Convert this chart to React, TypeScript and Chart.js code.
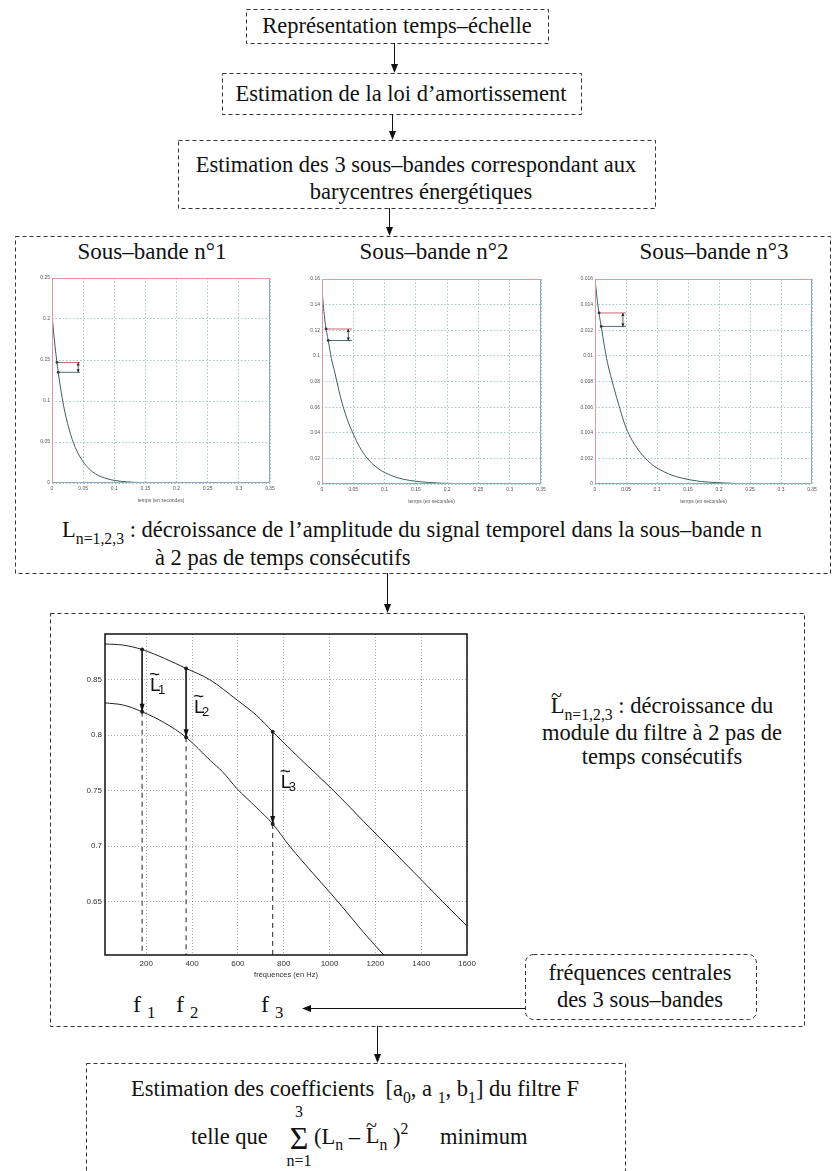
import React, { useEffect, useRef } from "react";
import { Chart, registerables } from "chart.js";
Chart.register(...registerables);

// ---------------- data : sub-band decay curves ----------------
const TIME_TICKS = [0, 0.05, 0.1, 0.15, 0.2, 0.25, 0.3, 0.35];

const SB1_TIME = [0, 0.005, 0.01, 0.015, 0.02, 0.03, 0.04, 0.05, 0.06, 0.07, 0.08, 0.09, 0.1, 0.12, 0.14, 0.17, 0.2];
const SB1_AMP = [0.205, 0.166, 0.135, 0.11, 0.089, 0.059, 0.039, 0.026, 0.017, 0.011, 0.0074, 0.0048, 0.0032, 0.0014, 0.0006, 0.0002, 0];
const SB1_MARK_TIME = [0.008, 0.01];
const SB1_MARK_AMP = [0.147, 0.135];
const SB1_LINE_END = 0.045;
const SB1_ARROW_TIME = 0.042;
const SB1_Y_TICKS = [0, 0.05, 0.1, 0.15, 0.2, 0.25];

const SB2_TIME = [0, 0.005, 0.01, 0.015, 0.02, 0.03, 0.04, 0.05, 0.06, 0.07, 0.08, 0.09, 0.1, 0.12, 0.14, 0.17, 0.2, 0.25];
const SB2_AMP = [0.151, 0.126, 0.112, 0.098, 0.088, 0.067, 0.051, 0.039, 0.029, 0.0215, 0.016, 0.012, 0.009, 0.005, 0.0028, 0.0012, 0.0005, 0.0001];
const SB2_MARK_TIME = [0.0065, 0.01];
const SB2_MARK_AMP = [0.121, 0.112];
const SB2_LINE_END = 0.048;
const SB2_ARROW_TIME = 0.042;
const SB2_Y_TICKS = [0, 0.02, 0.04, 0.06, 0.08, 0.1, 0.12, 0.14, 0.16];

const SB3_TIME = [0, 0.005, 0.01, 0.015, 0.02, 0.03, 0.04, 0.05, 0.06, 0.07, 0.08, 0.09, 0.1, 0.12, 0.14, 0.17, 0.2, 0.25];
const SB3_AMP = [0.016, 0.0138, 0.0123, 0.0108, 0.0095, 0.0076, 0.0059, 0.0044, 0.0034, 0.00265, 0.00207, 0.0016, 0.00125, 0.00076, 0.00046, 0.0002, 0.0001, 0];
const SB3_MARK_TIME = [0.0065, 0.01];
const SB3_MARK_AMP = [0.01335, 0.0123];
const SB3_LINE_END = 0.05;
const SB3_ARROW_TIME = 0.045;
const SB3_Y_TICKS = [0, 0.002, 0.004, 0.006, 0.008, 0.01, 0.012, 0.014, 0.016];

// ---------------- data : filter modulus ----------------
const FREQ_TICKS = [200, 400, 600, 800, 1000, 1200, 1400, 1600];
const MOD_TICKS = [0.65, 0.7, 0.75, 0.8, 0.85];
const FREQ_HI = [20, 100, 182, 280, 374, 476, 600, 680, 752, 880, 1018, 1150, 1256, 1380, 1494, 1600];
const MOD_HI = [0.882, 0.881, 0.877, 0.869, 0.86, 0.85, 0.831, 0.818, 0.803, 0.777, 0.75, 0.722, 0.7, 0.674, 0.65, 0.628];
const FREQ_LO = [20, 100, 182, 280, 374, 480, 533, 595, 680, 752, 826, 930, 1045, 1150, 1245];
const MOD_LO = [0.829, 0.827, 0.821, 0.811, 0.798, 0.777, 0.767, 0.752, 0.735, 0.72, 0.7, 0.675, 0.648, 0.622, 0.6];
const F_CENTRAL = [182, 374, 752];
const MOD_HI_AT_F = [0.877, 0.86, 0.803];
const MOD_LO_AT_F = [0.821, 0.798, 0.72];

// ---------------- layout / style ----------------
const SERIF = '"Liberation Serif", "Times New Roman", Times, serif';
const SANS = '"Liberation Sans", Arial, Helvetica, sans-serif';
const FS = 22.5;

function geom(l: number, t: number, r: number, b: number, yw: number, pt: number, pr: number, xh: number) {
  return { left: l - yw, top: t - pt, width: r - l + yw + pr, height: b - t + pt + xh, yw, pt, pr, xh };
}
const G1 = geom(52, 278, 270, 483, 30, 6, 10, 22);
const G2 = geom(322, 279, 541, 484, 30, 6, 10, 22);
const G3 = geom(595, 279, 812, 484, 30, 6, 10, 22);
const G4 = geom(105, 634, 467, 955, 40, 8, 14, 26);

const pts = (xs: number[], ys: number[]) => xs.map((x, i) => ({ x, y: ys[i] }));

function makeSubband(canvas: HTMLCanvasElement, g: any, time: number[], amp: number[], markT: number[], markA: number[], lineEnd: number, arrowT: number, yTicks: number[]) {
  const gridColor = "#8dbaba";
  const arrowPlugin = {
    id: "gapArrow",
    afterDatasetsDraw(chart: any) {
      const { ctx, scales } = chart;
      const x = scales.x.getPixelForValue(arrowT);
      const y1 = scales.y.getPixelForValue(markA[0]);
      const y2 = scales.y.getPixelForValue(markA[1]);
      ctx.save();
      ctx.strokeStyle = "#333";
      ctx.fillStyle = "#222";
      ctx.lineWidth = 0.8;
      ctx.beginPath();
      ctx.moveTo(x, y1);
      ctx.lineTo(x, y2);
      ctx.stroke();
      ctx.beginPath();
      ctx.moveTo(x, y1); ctx.lineTo(x - 1.6, y1 + 3); ctx.lineTo(x + 1.6, y1 + 3); ctx.closePath(); ctx.fill();
      ctx.beginPath();
      ctx.moveTo(x, y2); ctx.lineTo(x - 1.6, y2 - 3); ctx.lineTo(x + 1.6, y2 - 3); ctx.closePath(); ctx.fill();
      ctx.restore();
    },
    afterDraw(chart: any) {
      const { ctx, chartArea: a } = chart;
      ctx.save();
      ctx.lineWidth = 1;
      ctx.strokeStyle = "#e09a9a";
      ctx.beginPath();
      ctx.moveTo(a.left + 0.5, a.bottom); ctx.lineTo(a.left + 0.5, a.top + 0.5); ctx.lineTo(a.right, a.top + 0.5);
      ctx.stroke();
      ctx.strokeStyle = "#86b0b0";
      ctx.beginPath();
      ctx.moveTo(a.right - 0.5, a.top); ctx.lineTo(a.right - 0.5, a.bottom - 0.5); ctx.lineTo(a.left, a.bottom - 0.5);
      ctx.stroke();
      ctx.restore();
    },
  };
  return new Chart(canvas, {
    type: "line",
    data: {
      datasets: [
        { data: pts(time, amp), borderColor: "#3f5d5d", borderWidth: 1, pointRadius: 0, cubicInterpolationMode: "monotone" },
        { data: [{ x: markT[0], y: markA[0] }, { x: lineEnd, y: markA[0] }], borderColor: "#c86a6a", borderWidth: 1, pointRadius: [1.4, 0], pointBackgroundColor: "#222", pointBorderWidth: 0 },
        { data: [{ x: markT[1], y: markA[1] }, { x: lineEnd, y: markA[1] }], borderColor: "#4f6f6f", borderWidth: 1, pointRadius: [1.4, 0], pointBackgroundColor: "#222", pointBorderWidth: 0 },
      ],
    } as any,
    options: {
      animation: false,
      responsive: false,
      events: [],
      layout: { padding: { left: 0, top: g.pt, right: g.pr, bottom: 0 } },
      plugins: { legend: { display: false }, tooltip: { enabled: false } },
      scales: {
        x: {
          type: "linear", min: 0, max: 0.35,
          afterBuildTicks: (s: any) => { s.ticks = TIME_TICKS.map((v) => ({ value: v })); },
          afterFit: (s: any) => { s.height = g.xh; },
          grid: { color: gridColor, lineWidth: 0.8, drawTicks: false },
          border: { display: false, dash: [1.5, 2] },
          ticks: { font: { size: 5, family: SANS }, color: "#555", padding: 3, maxRotation: 0, autoSkip: false, callback: (v: any) => String(v) },
          title: { display: true, text: "temps (en secondes)", font: { size: 5, family: SANS }, color: "#555", padding: { top: 0, bottom: 1 } },
        },
        y: {
          type: "linear", min: 0, max: yTicks[yTicks.length - 1],
          afterBuildTicks: (s: any) => { s.ticks = yTicks.map((v) => ({ value: v })); },
          afterFit: (s: any) => { s.width = g.yw; },
          grid: { color: gridColor, lineWidth: 0.8, drawTicks: false },
          border: { display: false, dash: [1.5, 2] },
          ticks: { font: { size: 5, family: SANS }, color: "#555", padding: 2, autoSkip: false, callback: (v: any) => String(v) },
        },
      },
    } as any,
    plugins: [arrowPlugin],
  });
}

function makeFilter(canvas: HTMLCanvasElement, g: any) {
  const annot = {
    id: "annot",
    afterDatasetsDraw(chart: any) {
      const { ctx, scales } = chart;
      ctx.save();
      F_CENTRAL.forEach((f, i) => {
        const px = scales.x.getPixelForValue(f);
        const pyTop = scales.y.getPixelForValue(MOD_HI_AT_F[i]);
        const pyBot = scales.y.getPixelForValue(MOD_LO_AT_F[i]);
        ctx.fillStyle = "#111";
        ctx.beginPath();
        ctx.moveTo(px, pyBot); ctx.lineTo(px - 2.5, pyBot - 8); ctx.lineTo(px + 2.5, pyBot - 8); ctx.closePath(); ctx.fill();
        const lx = px + 8;
        const ly = (pyTop + pyBot) / 2 + 10;
        ctx.textAlign = "left";
        ctx.textBaseline = "alphabetic";
        ctx.font = `19px ${SANS}`;
        ctx.fillText("L", lx, ly);
        ctx.font = `19px ${SANS}`;
        ctx.fillText("~", lx - 1, ly - 11);
        ctx.font = `13px ${SANS}`;
        ctx.fillText(String(i + 1), lx + 8, ly + 3);
      });
      ctx.restore();
    },
    afterDraw(chart: any) {
      const { ctx, chartArea: a } = chart;
      ctx.save();
      ctx.lineWidth = 1.5;
      ctx.strokeStyle = "#111";
      ctx.strokeRect(a.left, a.top, a.right - a.left, a.bottom - a.top);
      ctx.restore();
    },
  };
  const datasets: any[] = [
    { data: pts(FREQ_HI, MOD_HI), borderColor: "#222", borderWidth: 1, pointRadius: 0, cubicInterpolationMode: "monotone" },
    { data: pts(FREQ_LO, MOD_LO), borderColor: "#222", borderWidth: 1, pointRadius: 0, cubicInterpolationMode: "monotone" },
  ];
  F_CENTRAL.forEach((f, i) => {
    datasets.push({ data: [{ x: f, y: MOD_HI_AT_F[i] }, { x: f, y: MOD_LO_AT_F[i] }], borderColor: "#222", borderWidth: 1, pointRadius: 2, pointBackgroundColor: "#222", pointBorderWidth: 0 });
    datasets.push({ data: [{ x: f, y: MOD_LO_AT_F[i] }, { x: f, y: 0.602 }], borderColor: "#222", borderWidth: 1, borderDash: [5, 4], pointRadius: 0 });
  });
  return new Chart(canvas, {
    type: "line",
    data: { datasets },
    options: {
      animation: false,
      responsive: false,
      events: [],
      layout: { padding: { left: 0, top: g.pt, right: g.pr, bottom: 0 } },
      plugins: { legend: { display: false }, tooltip: { enabled: false } },
      scales: {
        x: {
          type: "linear", min: 20, max: 1600,
          afterBuildTicks: (s: any) => { s.ticks = FREQ_TICKS.map((v) => ({ value: v })); },
          afterFit: (s: any) => { s.height = g.xh; },
          grid: { color: "#9a9a9a", lineWidth: 0.8, drawTicks: false },
          border: { display: false, dash: [1, 2] },
          ticks: { font: { size: 8, family: SANS }, color: "#333", padding: 4, maxRotation: 0, autoSkip: false, callback: (v: any) => String(v) },
          title: { display: true, text: "fréquences (en Hz)", font: { size: 7.5, family: SANS }, color: "#333", padding: { top: 0, bottom: 2 } },
        },
        y: {
          type: "linear", min: 0.602, max: 0.891,
          afterBuildTicks: (s: any) => { s.ticks = MOD_TICKS.map((v) => ({ value: v })); },
          afterFit: (s: any) => { s.width = g.yw; },
          grid: { color: "#9a9a9a", lineWidth: 0.8, drawTicks: false },
          border: { display: false, dash: [1, 2] },
          ticks: { font: { size: 8, family: SANS }, color: "#333", padding: 3, autoSkip: false, callback: (v: any) => String(v) },
        },
      },
    } as any,
    plugins: [annot],
  });
}

// ---------------- HTML helpers ----------------
function Txt({ x, y, children, align = "center", size = FS }: any) {
  const tx = align === "center" ? "-50%" : align === "right" ? "-100%" : "0";
  return (
    <div style={{ position: "absolute", left: x, top: y, transform: `translate(${tx}, -50%)`, whiteSpace: "nowrap", fontSize: size, lineHeight: 1, fontFamily: SERIF, color: "#111" }}>
      {children}
    </div>
  );
}
const Sub = ({ children }: any) => <span style={{ fontSize: "0.7em", verticalAlign: "-0.4em" }}>{children}</span>;
const Sup = ({ children }: any) => <span style={{ fontSize: "0.7em", verticalAlign: "0.6em" }}>{children}</span>;
const LT = () => (
  <span style={{ position: "relative", display: "inline-block" }}>
    L<span style={{ position: "absolute", left: "0.02em", top: "-0.5em", fontSize: "0.9em" }}>~</span>
  </span>
);

const DASH = "4 3";
function Box({ x1, y1, x2, y2, rx = 0 }: any) {
  return <rect x={x1 + 0.5} y={y1 + 0.5} width={x2 - x1} height={y2 - y1} rx={rx} fill="none" stroke="#333" strokeWidth={1} strokeDasharray={DASH} />;
}
function ArrowDown({ x, y1, y2 }: any) {
  return (
    <g>
      <line x1={x + 0.5} y1={y1} x2={x + 0.5} y2={y2 - 8} stroke="#111" strokeWidth={1} />
      <polygon points={`${x + 0.5 - 3.5},${y2 - 9} ${x + 0.5 + 3.5},${y2 - 9} ${x + 0.5},${y2}`} fill="#111" />
    </g>
  );
}
function ArrowLeft({ x1, x2, y }: any) {
  return (
    <g>
      <line x1={x1} y1={y + 0.5} x2={x2 + 8} y2={y + 0.5} stroke="#111" strokeWidth={1} />
      <polygon points={`${x2 + 9},${y + 0.5 - 3.5} ${x2 + 9},${y + 0.5 + 3.5} ${x2},${y + 0.5}`} fill="#111" />
    </g>
  );
}

export default function App() {
  const r1 = useRef<HTMLCanvasElement>(null);
  const r2 = useRef<HTMLCanvasElement>(null);
  const r3 = useRef<HTMLCanvasElement>(null);
  const r4 = useRef<HTMLCanvasElement>(null);

  useEffect(() => {
    const charts = [
      makeSubband(r1.current!, G1, SB1_TIME, SB1_AMP, SB1_MARK_TIME, SB1_MARK_AMP, SB1_LINE_END, SB1_ARROW_TIME, SB1_Y_TICKS),
      makeSubband(r2.current!, G2, SB2_TIME, SB2_AMP, SB2_MARK_TIME, SB2_MARK_AMP, SB2_LINE_END, SB2_ARROW_TIME, SB2_Y_TICKS),
      makeSubband(r3.current!, G3, SB3_TIME, SB3_AMP, SB3_MARK_TIME, SB3_MARK_AMP, SB3_LINE_END, SB3_ARROW_TIME, SB3_Y_TICKS),
      makeFilter(r4.current!, G4),
    ];
    return () => charts.forEach((c) => c.destroy());
  }, []);

  const cv = (ref: any, g: any) => (
    <canvas ref={ref} width={g.width} height={g.height} style={{ position: "absolute", left: g.left, top: g.top, width: g.width, height: g.height }} />
  );

  return (
    <div style={{ position: "absolute", left: 0, top: 0, width: 834, height: 1171, background: "#fff", overflow: "hidden", fontFamily: SERIF }}>
      <svg width={834} height={1171} style={{ position: "absolute", left: 0, top: 0 }}>
        <Box x1={246} y1={9} x2={548} y2={43} />
        <ArrowDown x={394} y1={43} y2={73} />
        <Box x1={222} y1={73} x2={581} y2={114} />
        <ArrowDown x={392} y1={114} y2={140} />
        <Box x1={178} y1={140} x2={655} y2={208} />
        <ArrowDown x={389} y1={208} y2={236} />
        <Box x1={15} y1={236} x2={830} y2={573} />
        <ArrowDown x={387} y1={573} y2={613} />
        <Box x1={50} y1={613} x2={804} y2={1026} />
        <Box x1={525} y1={954} x2={756} y2={1019} rx={8} />
        <ArrowLeft x1={525} x2={302} y={1008} />
        <ArrowDown x={377} y1={1026} y2={1063} />
        <Box x1={86} y1={1063} x2={625} y2={1190} />
      </svg>

      <Txt x={397} y={26}>Représentation temps–échelle</Txt>
      <Txt x={401} y={94}>Estimation de la loi d’amortissement</Txt>
      <Txt x={416} y={165}>Estimation des 3 sous–bandes correspondant aux</Txt>
      <Txt x={421} y={192}>barycentres énergétiques</Txt>

      <Txt x={152} y={251} size={23}>Sous–bande n°1</Txt>
      <Txt x={434} y={251} size={23}>Sous–bande n°2</Txt>
      <Txt x={714} y={251} size={23}>Sous–bande n°3</Txt>

      {cv(r1, G1)}
      {cv(r2, G2)}
      {cv(r3, G3)}

      <Txt x={62} y={533} align="left">
        L<Sub>n=1,2,3</Sub> : décroissance de l’amplitude du signal temporel dans la sous–bande n
      </Txt>
      <Txt x={155} y={558} align="left">à 2 pas de temps consécutifs</Txt>

      {cv(r4, G4)}

      <Txt x={662} y={709}>
        <LT /><Sub>n=1,2,3</Sub> : décroissance du
      </Txt>
      <Txt x={662} y={733}>module du filtre à 2 pas de</Txt>
      <Txt x={662} y={757}>temps consécutifs</Txt>

      <Txt x={133} y={1007} align="left" size={24}>f <Sub>1</Sub></Txt>
      <Txt x={176} y={1007} align="left" size={24}>f <Sub>2</Sub></Txt>
      <Txt x={261} y={1007} align="left" size={24}>f <Sub>3</Sub></Txt>

      <Txt x={640} y={973}>fréquences centrales</Txt>
      <Txt x={640} y={1000}>des 3 sous–bandes</Txt>

      <Txt x={355} y={1092}>
        Estimation des coefficients&nbsp; [a<Sub>0</Sub>, a <Sub>1</Sub>, b<Sub>1</Sub>] du filtre F
      </Txt>
      <Txt x={191} y={1137} align="left">telle que</Txt>
      <Txt x={299} y={1138} size={32}>Σ</Txt>
      <Txt x={299} y={1112} size={16}>3</Txt>
      <Txt x={299} y={1161} size={16}>n=1</Txt>
      <Txt x={314} y={1137} align="left">
        (L<Sub>n</Sub> – <LT /><Sub>n</Sub> )<Sup>2</Sup>
      </Txt>
      <Txt x={440} y={1137} align="left">minimum</Txt>
    </div>
  );
}
